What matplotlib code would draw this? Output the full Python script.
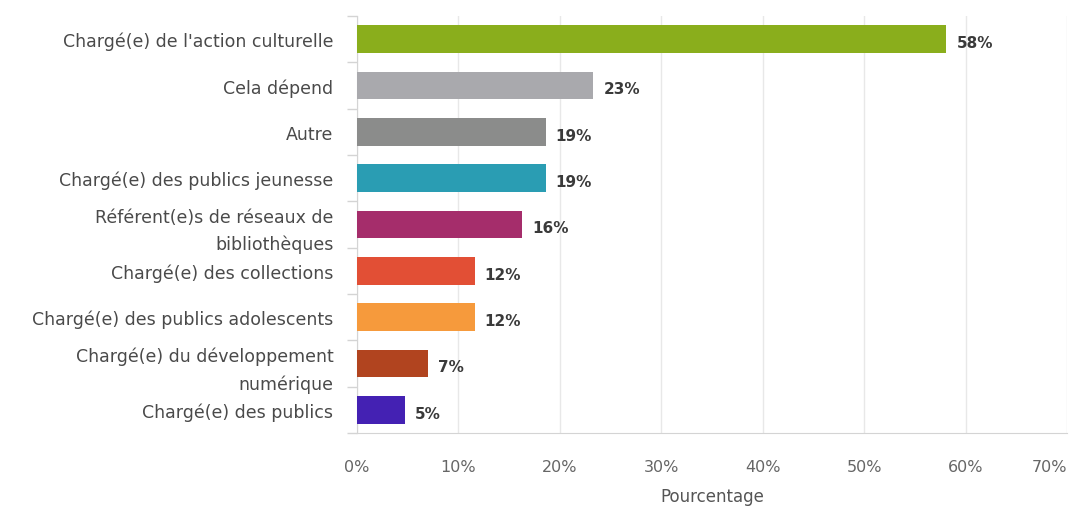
import matplotlib
matplotlib.use("Agg")
import matplotlib.pyplot as plt
import numpy as np

categories = [
    "Chargé(e) de l'action culturelle",
    "Cela dépend",
    "Autre",
    "Chargé(e) des publics jeunesse",
    "Référent(e)s de réseaux de\nbibliothèques",
    "Chargé(e) des collections",
    "Chargé(e) des publics adolescents",
    "Chargé(e) du développement\nnumérique",
    "Chargé(e) des publics",
]
values = [58.1, 23.3, 18.6, 18.6, 16.3, 11.6, 11.6, 7.0, 4.7]
value_labels = ["58%", "23%", "19%", "19%", "16%", "12%", "12%", "7%", "5%"]
colors = ["#8aae1c", "#a9a9ad", "#8b8c8b", "#2a9db3", "#a52d6b",
          "#e24f35", "#f69a3c", "#b1441f", "#4421b3"]
xticks = [0, 10, 20, 30, 40, 50, 60, 70]
xtick_labels = ["0%", "10%", "20%", "30%", "40%", "50%", "60%", "70%"]

plt.rcParams['font.family'] = ['DejaVu Sans']

fig = plt.figure(figsize=(10.7, 5.1), dpi=100)
ax = fig.add_axes([357/1070, 1 - 434/510, 710/1070, (434 - 17)/510])

y = np.arange(len(categories))
ax.barh(y, values, height=0.6, color=colors, zorder=3)
for yi, v, lab in zip(y, values, value_labels):
    ax.text(v + 1.0, yi + 0.07, lab, va='center', ha='left', fontsize=11,
            fontweight='bold', color='#3a3a3a', zorder=4)

ax.set_xlim(0, 70)
ax.set_ylim(len(categories) - 0.5, -0.5)
ax.set_xticks(xticks)
ax.set_xticklabels(xtick_labels)
ax.set_yticks(y)
ax.set_yticklabels(categories)
ax.set_yticks(np.arange(-0.5, len(categories), 1), minor=True)

ax.tick_params(axis='x', length=0, pad=19, labelsize=11.5, labelcolor='#666666')
ax.tick_params(axis='y', which='major', length=0, pad=17, labelsize=12.5,
               labelcolor='#4a4a4a')
ax.tick_params(axis='y', which='minor', length=7, color='#d4d4d4', width=1)
for lbl in ax.get_yticklabels():
    lbl.set_linespacing(1.6)
xt = ax.get_xticklabels()
xt[-1].set_horizontalalignment('right')

ax.grid(axis='x', color='#e8e8e8', linewidth=1, zorder=0)
for s in ['top', 'right']:
    ax.spines[s].set_visible(False)
ax.spines['left'].set_color('#d4d4d4')
ax.spines['bottom'].set_color('#d4d4d4')

ax.set_xlabel("Pourcentage", fontsize=12, color='#555555', labelpad=9)

fig.savefig("out.png", dpi=100)
